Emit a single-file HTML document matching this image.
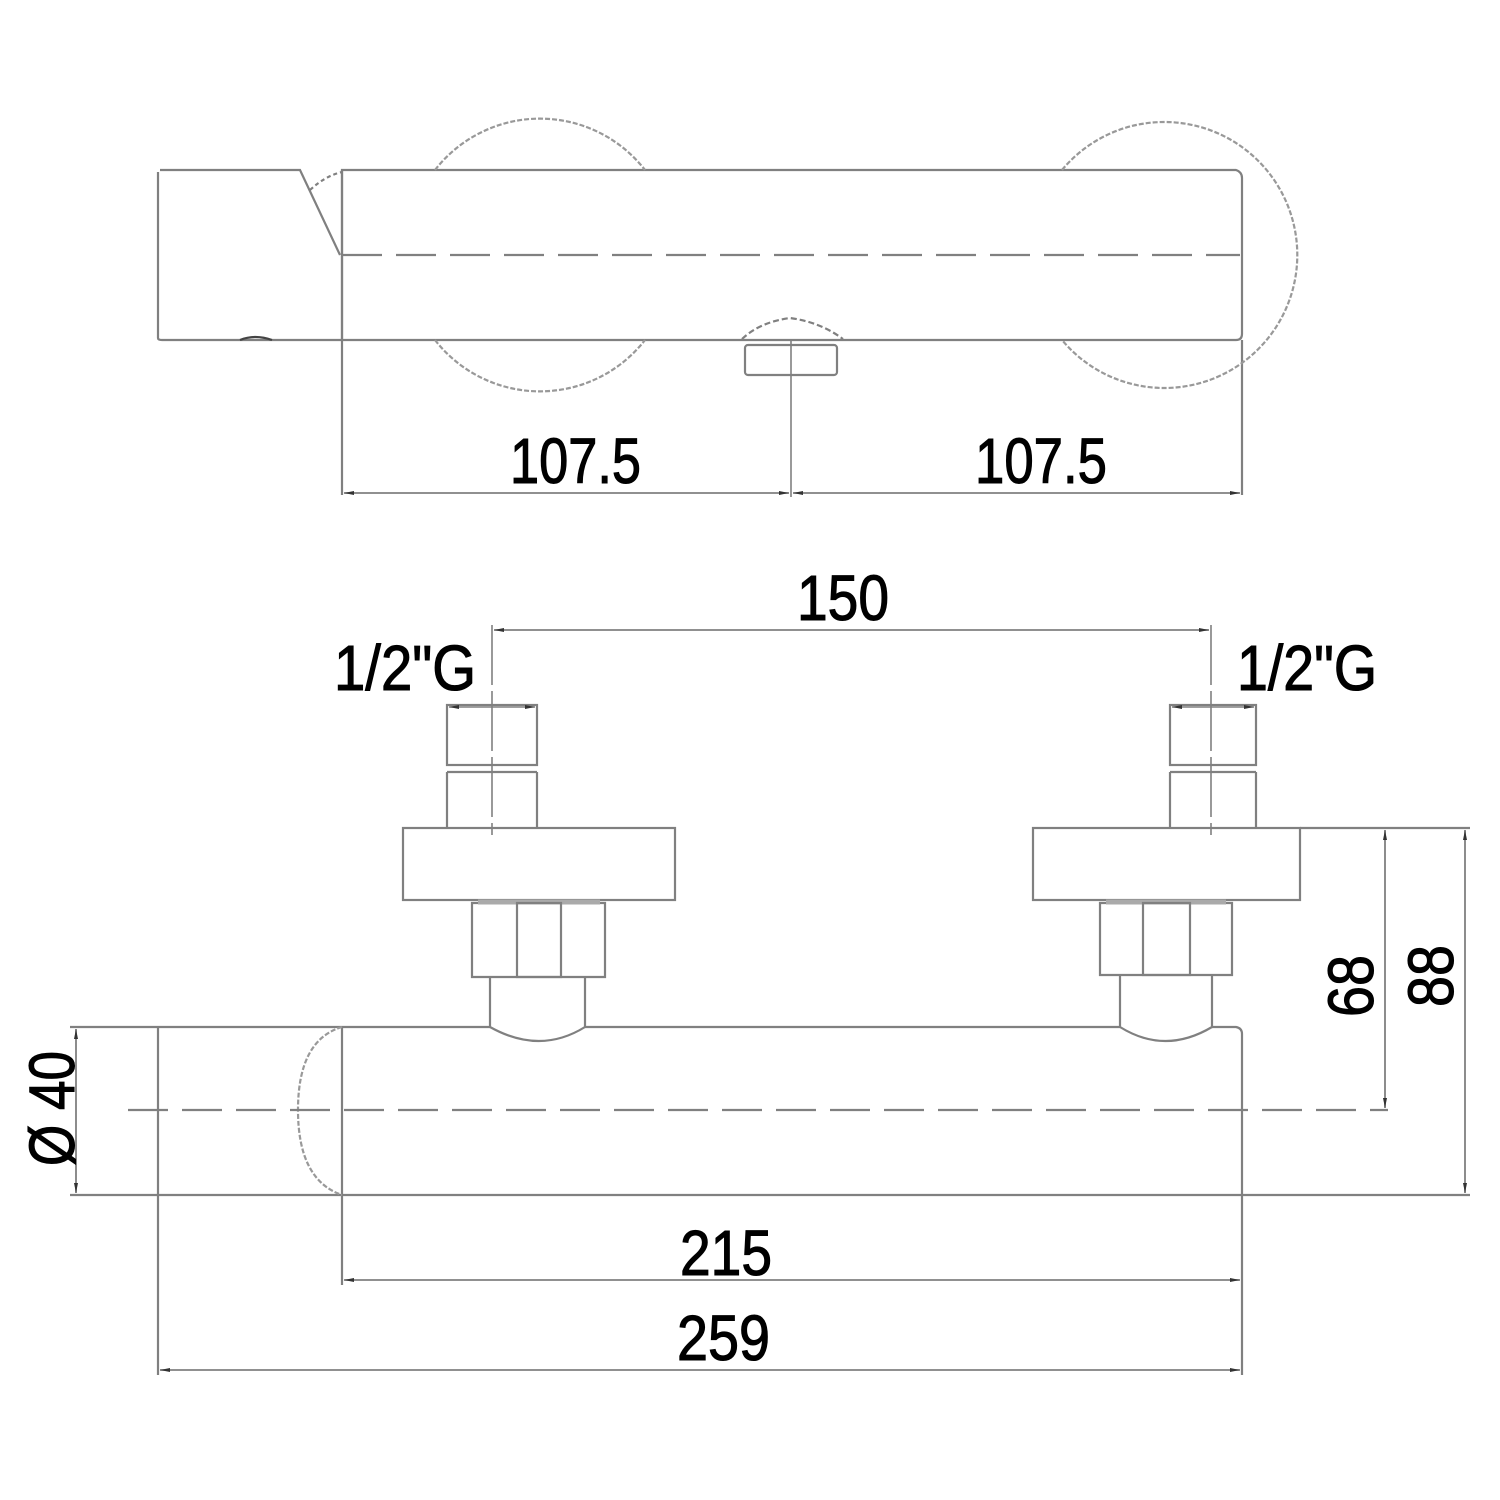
<!DOCTYPE html>
<html><head><meta charset="utf-8"><style>
html,body{margin:0;padding:0;background:#fff;}
svg{display:block;}
text{font-family:"Liberation Sans",sans-serif;fill:#000;stroke:#000;stroke-width:1.1;}
</style></head><body>
<svg width="1500" height="1500" viewBox="0 0 1500 1500" xmlns="http://www.w3.org/2000/svg">
<defs>
<marker id="ar" viewBox="0 0 10 6" refX="10" refY="3" markerWidth="10" markerHeight="6" orient="auto-start-reverse" markerUnits="userSpaceOnUse"><path d="M0,1 L10,3 L0,5 z" fill="#333"/></marker>
</defs>
<g fill="none" stroke="#808080" stroke-width="2.2">
<path d="M158,172 L158,338 Q158,340 162,340 L342,340 M160,170 L300,170 L340,255"/>
<path d="M310,190 Q325,176 342,172" stroke-dasharray="4,3"/>
<path d="M342,170 L1236,170 Q1242,172 1242,178 L1242,334 Q1242,340 1236,340 L342,340 Z"/>
<line x1="342" y1="170" x2="342" y2="495"/>
<line x1="1242" y1="340" x2="1242" y2="495"/>
<line x1="342" y1="255" x2="1240" y2="255" stroke-dasharray="40,14"/>
<path d="M435,170 A133,133 0 0 1 645,170" stroke-dasharray="5,2" stroke="#999"/>
<path d="M435,340 A133,133 0 0 0 645,340" stroke-dasharray="5,2" stroke="#999"/>
<path d="M1062,170 A133,133 0 1 1 1062,340" stroke-dasharray="5,2" stroke="#999"/>
<path d="M742,339 Q760,322 790,318 Q820,322 843,339" stroke-dasharray="6,3"/>
<rect x="745" y="345" width="92" height="30" rx="3"/>
<line x1="791" y1="340" x2="791" y2="497" stroke-width="1.6"/>
<path d="M240,340 Q255,334 272,340" stroke="#444"/>
<line x1="344" y1="493" x2="789" y2="493" marker-start="url(#ar)" marker-end="url(#ar)" stroke-width="1.8"/>
<line x1="793" y1="493" x2="1240" y2="493" marker-start="url(#ar)" marker-end="url(#ar)" stroke-width="1.8"/>

<path d="M158,1027 L342,1027 M158,1027 L158,1195 L342,1195"/>
<line x1="342" y1="1027" x2="342" y2="1285"/>
<path d="M342,1027 Q298,1040 298,1110 Q298,1180 342,1195" stroke-dasharray="5,2" stroke="#999"/>
<path d="M342,1027 L490,1027 M585,1027 L1120,1027 M1212,1027 L1236,1027 Q1242,1028 1242,1034 L1242,1375 M1242,1195 L342,1195"/>
<line x1="128" y1="1110" x2="1388" y2="1110" stroke-dasharray="40,14"/>
<line x1="70" y1="1027" x2="158" y2="1027"/>
<line x1="70" y1="1195" x2="158" y2="1195"/>
<line x1="76" y1="1029" x2="76" y2="1193" marker-start="url(#ar)" marker-end="url(#ar)" stroke-width="1.8"/>

<rect x="447" y="705" width="90" height="60"/>
<line x1="447" y1="772" x2="537" y2="772"/>
<line x1="447" y1="772" x2="447" y2="828"/><line x1="537" y1="772" x2="537" y2="828"/>
<rect x="403" y="828" width="272" height="72"/>
<path d="M472,903 L605,903 L605,977 L472,977 Z" />
<line x1="478" y1="902" x2="600" y2="902" stroke-width="5" stroke="#aaa"/>
<rect x="517" y="903" width="44" height="74"/>
<path d="M490,977 L490,1027 Q540,1055 585,1027 L585,977"/>
<line x1="492" y1="625" x2="492" y2="835" stroke-dasharray="60,6" stroke-width="1.6"/>
<line x1="449" y1="707" x2="535" y2="707" marker-start="url(#ar)" marker-end="url(#ar)" stroke-width="1.6"/>

<rect x="1170" y="705" width="86" height="60"/>
<line x1="1170" y1="772" x2="1256" y2="772"/>
<line x1="1170" y1="772" x2="1170" y2="828"/><line x1="1256" y1="772" x2="1256" y2="828"/>
<rect x="1033" y="828" width="267" height="72"/>
<path d="M1100,903 L1232,903 L1232,975 L1100,975 Z"/>
<line x1="1106" y1="902" x2="1226" y2="902" stroke-width="5" stroke="#aaa"/>
<rect x="1143" y="903" width="47" height="72"/>
<path d="M1120,975 L1120,1027 Q1165,1055 1212,1027 L1212,975"/>
<line x1="1211" y1="625" x2="1211" y2="835" stroke-dasharray="60,6" stroke-width="1.6"/>
<line x1="1172" y1="707" x2="1254" y2="707" marker-start="url(#ar)" marker-end="url(#ar)" stroke-width="1.6"/>

<line x1="494" y1="630" x2="1209" y2="630" marker-start="url(#ar)" marker-end="url(#ar)" stroke-width="1.8"/>

<line x1="1300" y1="828" x2="1470" y2="828"/>
<line x1="1242" y1="1195" x2="1470" y2="1195"/>
<line x1="1385" y1="830" x2="1385" y2="1108" marker-start="url(#ar)" marker-end="url(#ar)" stroke-width="1.8"/>
<line x1="1465" y1="830" x2="1465" y2="1193" marker-start="url(#ar)" marker-end="url(#ar)" stroke-width="1.8"/>

<line x1="158" y1="1195" x2="158" y2="1375"/>
<line x1="344" y1="1280" x2="1240" y2="1280" marker-start="url(#ar)" marker-end="url(#ar)" stroke-width="1.8"/>
<line x1="160" y1="1370" x2="1240" y2="1370" marker-start="url(#ar)" marker-end="url(#ar)" stroke-width="1.8"/>
</g>
<g font-size="64">
<text x="510" y="483" textLength="131" lengthAdjust="spacingAndGlyphs">107.5</text>
<text x="975" y="483" textLength="132" lengthAdjust="spacingAndGlyphs">107.5</text>
<text x="797" y="620" textLength="92" lengthAdjust="spacingAndGlyphs">150</text>
<text x="334" y="690" textLength="142" lengthAdjust="spacingAndGlyphs">1/2"G</text>
<text x="1237" y="690" textLength="140" lengthAdjust="spacingAndGlyphs">1/2"G</text>
<text x="680" y="1275" textLength="92" lengthAdjust="spacingAndGlyphs">215</text>
<text x="677" y="1360" textLength="93" lengthAdjust="spacingAndGlyphs">259</text>
<text transform="translate(1373,1017) rotate(-90)" textLength="62" lengthAdjust="spacingAndGlyphs">68</text>
<text transform="translate(1453,1007) rotate(-90)" textLength="62" lengthAdjust="spacingAndGlyphs">88</text>
<text transform="translate(74,1166) rotate(-90)" textLength="115" lengthAdjust="spacingAndGlyphs">Ø 40</text>
</g>
</svg>
</body></html>
